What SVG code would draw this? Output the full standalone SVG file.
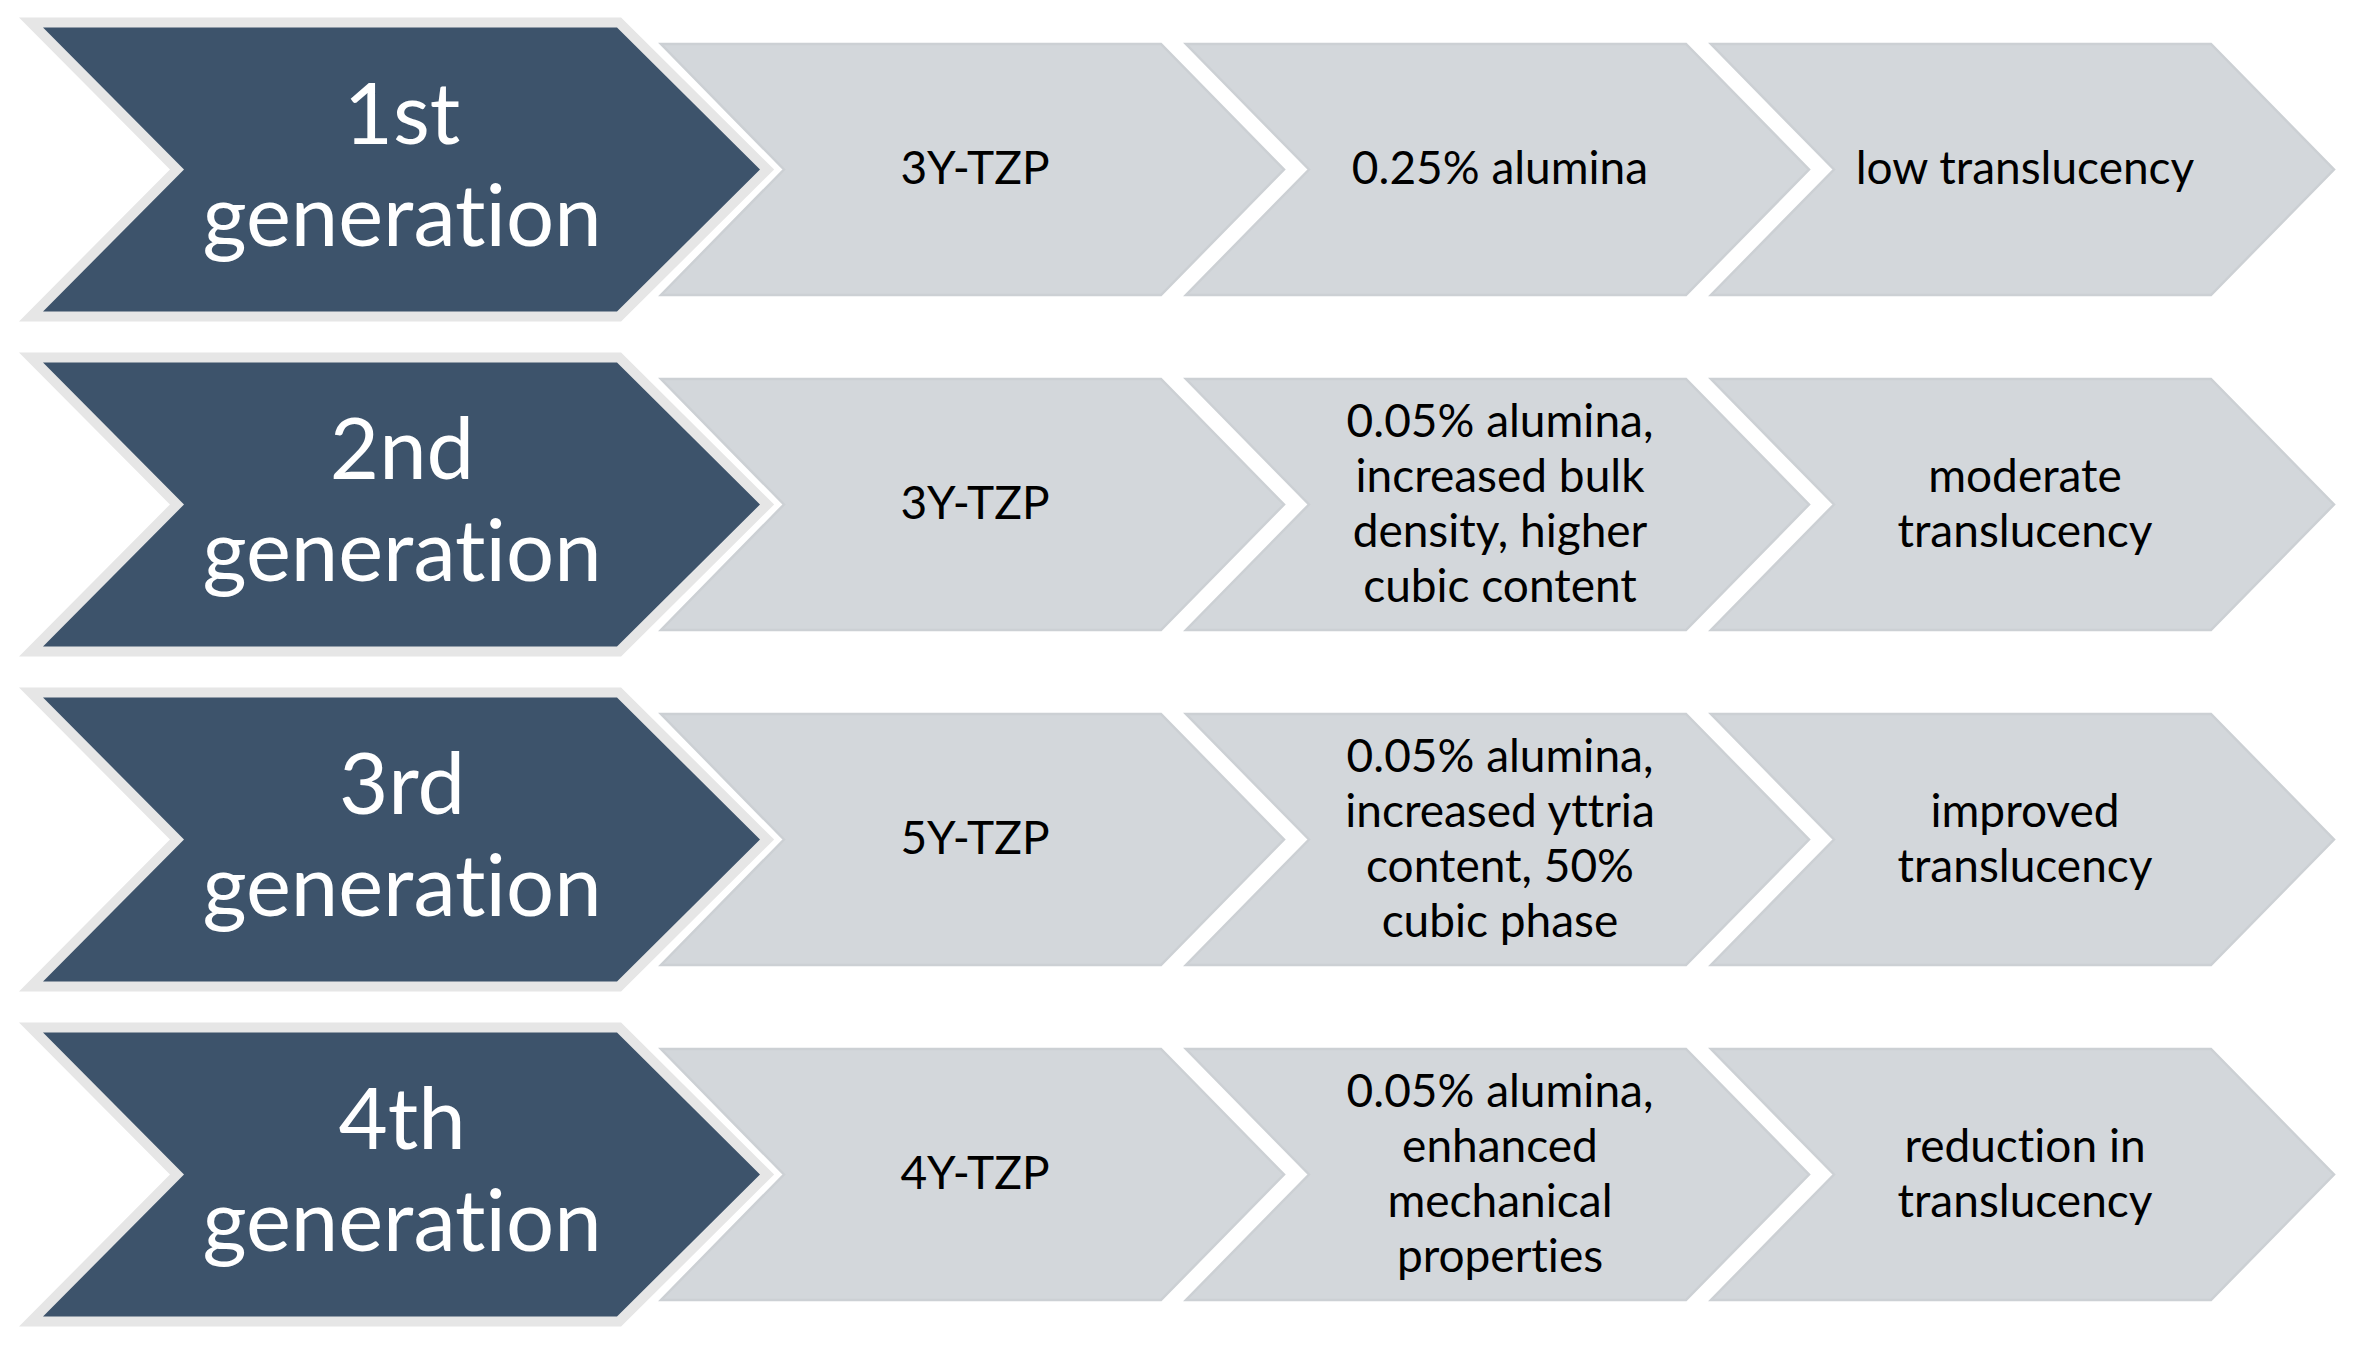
<svg xmlns="http://www.w3.org/2000/svg" width="2365" height="1346" viewBox="0 0 2365 1346">
<defs>
<style>
.dark{fill:#3d536b;stroke:#e6e6e6;stroke-width:20;stroke-linejoin:miter;stroke-miterlimit:4;paint-order:stroke}
.light{fill:#d3d7db;stroke:#ccd0d4;stroke-width:2.5;stroke-linejoin:miter}
.gt{font-family:Lato,"Liberation Sans",sans-serif;font-size:85px;fill:#ffffff;text-anchor:middle;font-variant-ligatures:none;font-feature-settings:"liga" 0,"clig" 0}
.lt{font-family:Lato,"Liberation Sans",sans-serif;font-size:46px;fill:#000000;text-anchor:middle;font-variant-ligatures:none;font-feature-settings:"liga" 0,"clig" 0}
</style>
<polygon id="darkShape" points="43,-142 617,-142 760,0 617,142 43,142 184,0"/>
<polygon id="lightShape" points="0,-125.5 500,-125.5 623,0 500,125.5 0,125.5 123,0"/>
</defs>
<rect width="2365" height="1346" fill="#ffffff"/>
<g id="connectors"/>

<g id="row1" transform="translate(0,169.5)">
  <g id="gen1"><use href="#darkShape" class="dark"/><text class="gt" x="402" y="-26">1st</text><text class="gt" x="402" y="76">generation</text></g>
  <g id="r1c1" transform="translate(661,0)"><use href="#lightShape" class="light"/><text class="lt" x="314" y="14.5">3Y-TZP</text></g>
  <g id="r1c2" transform="translate(1186,0)"><use href="#lightShape" class="light"/><text class="lt" x="314" y="14.5">0.25% alumina</text></g>
  <g id="r1c3" transform="translate(1711,0)"><use href="#lightShape" class="light"/><text class="lt" x="314" y="14.5">low translucency</text></g>
</g>

<g id="row2" transform="translate(0,504.5)">
  <g id="gen2"><use href="#darkShape" class="dark"/><text class="gt" x="402" y="-26">2nd</text><text class="gt" x="402" y="76">generation</text></g>
  <g id="r2c1" transform="translate(661,0)"><use href="#lightShape" class="light"/><text class="lt" x="314" y="14.5">3Y-TZP</text></g>
  <g id="r2c2" transform="translate(1186,0)"><use href="#lightShape" class="light"/><text class="lt" x="314" y="-68">0.05% alumina,</text><text class="lt" x="314" y="-13">increased bulk</text><text class="lt" x="314" y="42">density, higher</text><text class="lt" x="314" y="97">cubic content</text></g>
  <g id="r2c3" transform="translate(1711,0)"><use href="#lightShape" class="light"/><text class="lt" x="314" y="-13">moderate</text><text class="lt" x="314" y="42">translucency</text></g>
</g>

<g id="row3" transform="translate(0,839.5)">
  <g id="gen3"><use href="#darkShape" class="dark"/><text class="gt" x="402" y="-26">3rd</text><text class="gt" x="402" y="76">generation</text></g>
  <g id="r3c1" transform="translate(661,0)"><use href="#lightShape" class="light"/><text class="lt" x="314" y="14.5">5Y-TZP</text></g>
  <g id="r3c2" transform="translate(1186,0)"><use href="#lightShape" class="light"/><text class="lt" x="314" y="-68">0.05% alumina,</text><text class="lt" x="314" y="-13">increased yttria</text><text class="lt" x="314" y="42">content, 50%</text><text class="lt" x="314" y="97">cubic phase</text></g>
  <g id="r3c3" transform="translate(1711,0)"><use href="#lightShape" class="light"/><text class="lt" x="314" y="-13">improved</text><text class="lt" x="314" y="42">translucency</text></g>
</g>

<g id="row4" transform="translate(0,1174.5)">
  <g id="gen4"><use href="#darkShape" class="dark"/><text class="gt" x="402" y="-26">4th</text><text class="gt" x="402" y="76">generation</text></g>
  <g id="r4c1" transform="translate(661,0)"><use href="#lightShape" class="light"/><text class="lt" x="314" y="14.5">4Y-TZP</text></g>
  <g id="r4c2" transform="translate(1186,0)"><use href="#lightShape" class="light"/><text class="lt" x="314" y="-68">0.05% alumina,</text><text class="lt" x="314" y="-13">enhanced</text><text class="lt" x="314" y="42">mechanical</text><text class="lt" x="314" y="97">properties</text></g>
  <g id="r4c3" transform="translate(1711,0)"><use href="#lightShape" class="light"/><text class="lt" x="314" y="-13">reduction in</text><text class="lt" x="314" y="42">translucency</text></g>
</g>
</svg>
